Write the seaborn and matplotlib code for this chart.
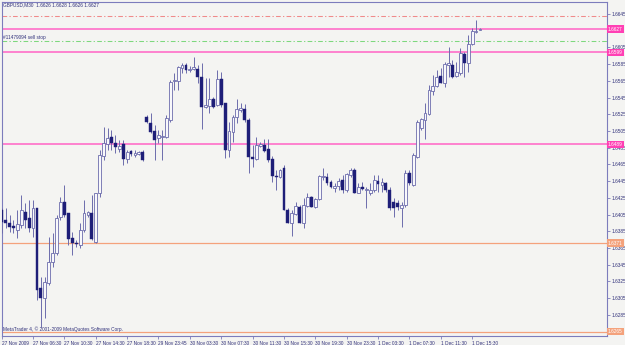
#GBPUSD M30 - grafico de velas estilo MetaTrader
import numpy as np
import pandas as pd
import seaborn as sns
import matplotlib.pyplot as plt
import matplotlib.transforms as mtransforms

#precios OHLC (123 velas de 30 minutos)
opens = [
    1.6411, 1.6398, 1.6395, 1.6391, 1.6387, 1.6393, 1.6408, 1.6401, 1.6389, 1.6413,
    1.6317, 1.6305, 1.6323, 1.6348, 1.6359, 1.6402, 1.6420, 1.6407, 1.6377, 1.6371,
    1.6369, 1.6387, 1.6404, 1.6407, 1.6372, 1.6431, 1.6475, 1.6489, 1.6498, 1.6491,
    1.6484, 1.6489, 1.6472, 1.6481, 1.6476, 1.6478, 1.6480, 1.6522, 1.6515, 1.6505,
    1.6497, 1.6498, 1.6498, 1.6518, 1.6565, 1.6565, 1.6580, 1.6584, 1.6578, 1.6579,
    1.6579, 1.6570, 1.6534, 1.6535, 1.6543, 1.6536, 1.6567, 1.6539, 1.6482, 1.6504,
    1.6522, 1.6530, 1.6531, 1.6518, 1.6474, 1.6472, 1.6487, 1.6488, 1.6484, 1.6472,
    1.6451, 1.6450, 1.6461, 1.6411, 1.6395, 1.6406, 1.6414, 1.6395, 1.6415, 1.6426,
    1.6414, 1.6424, 1.6450, 1.6450, 1.6444, 1.6437, 1.6439, 1.6446, 1.6434, 1.6452,
    1.6458, 1.6431, 1.6438, 1.6434, 1.6431, 1.6434, 1.6445, 1.6440, 1.6443, 1.6434,
    1.6420, 1.6419, 1.6413, 1.6417, 1.6455, 1.6440, 1.6474, 1.6509, 1.6518, 1.6525,
    1.6553, 1.6559, 1.6571, 1.6562, 1.6584, 1.6584, 1.6571, 1.6574, 1.6597, 1.6586,
    1.6609, 1.6623, 1.6626]
highs = [
    1.6413, 1.6413, 1.6404, 1.6398, 1.6411, 1.6428, 1.6419, 1.6422, 1.6422, 1.6413,
    1.6330, 1.6330, 1.6378, 1.6383, 1.6404, 1.6426, 1.6440, 1.6407, 1.6384, 1.6375,
    1.6395, 1.6422, 1.6409, 1.6428, 1.6431, 1.6482, 1.6510, 1.6509, 1.6506, 1.6500,
    1.6494, 1.6494, 1.6482, 1.6482, 1.6482, 1.6481, 1.6482, 1.6524, 1.6527, 1.6512,
    1.6506, 1.6506, 1.6524, 1.6566, 1.6574, 1.6583, 1.6586, 1.6586, 1.6583, 1.6594,
    1.6584, 1.6586, 1.6568, 1.6568, 1.6546, 1.6578, 1.6576, 1.6539, 1.6516, 1.6524,
    1.6543, 1.6539, 1.6537, 1.6521, 1.6488, 1.6498, 1.6492, 1.6495, 1.6495, 1.6475,
    1.6458, 1.6460, 1.6464, 1.6413, 1.6411, 1.6420, 1.6417, 1.6425, 1.6431, 1.6427,
    1.6425, 1.6452, 1.6461, 1.6455, 1.6446, 1.6443, 1.6449, 1.6452, 1.6455, 1.6461,
    1.6461, 1.6443, 1.6444, 1.6438, 1.6443, 1.6452, 1.6452, 1.6449, 1.6444, 1.6438,
    1.6425, 1.6422, 1.6420, 1.6458, 1.6458, 1.6479, 1.6518, 1.6521, 1.6539, 1.6560,
    1.6572, 1.6578, 1.6580, 1.6588, 1.6606, 1.6590, 1.6588, 1.6604, 1.6600, 1.6620,
    1.6628, 1.6638, 1.6628]
lows = [
    1.6383, 1.6389, 1.6384, 1.6383, 1.6377, 1.6389, 1.6389, 1.6384, 1.6378, 1.6303,
    1.6271, 1.6281, 1.6321, 1.6342, 1.6357, 1.6398, 1.6402, 1.6369, 1.6357, 1.6366,
    1.6365, 1.6384, 1.6402, 1.6375, 1.6371, 1.6426, 1.6470, 1.6482, 1.6482, 1.6479,
    1.6480, 1.6464, 1.6467, 1.6475, 1.6474, 1.6476, 1.6469, 1.6515, 1.6503, 1.6470,
    1.6491, 1.6470, 1.6497, 1.6516, 1.6554, 1.6554, 1.6574, 1.6574, 1.6576, 1.6578,
    1.6562, 1.6507, 1.6533, 1.6527, 1.6533, 1.6535, 1.6534, 1.6473, 1.6474, 1.6492,
    1.6515, 1.6528, 1.6516, 1.6455, 1.6462, 1.6470, 1.6486, 1.6480, 1.6468, 1.6444,
    1.6434, 1.6449, 1.6411, 1.6395, 1.6379, 1.6404, 1.6395, 1.6389, 1.6414, 1.6414,
    1.6413, 1.6422, 1.6446, 1.6440, 1.6437, 1.6432, 1.6434, 1.6431, 1.6432, 1.6450,
    1.6431, 1.6431, 1.6434, 1.6413, 1.6428, 1.6432, 1.6432, 1.6432, 1.6432, 1.6411,
    1.6402, 1.6411, 1.6390, 1.6414, 1.6440, 1.6439, 1.6473, 1.6506, 1.6495, 1.6524,
    1.6548, 1.6558, 1.6562, 1.6558, 1.6570, 1.6568, 1.6570, 1.6572, 1.6570, 1.6576,
    1.6608, 1.6622, 1.6626]
closes = [
    1.6396, 1.6395, 1.6390, 1.6389, 1.6394, 1.6411, 1.6398, 1.6389, 1.6413, 1.6315,
    1.6305, 1.6324, 1.6348, 1.6359, 1.6401, 1.6420, 1.6404, 1.6376, 1.6371, 1.6370,
    1.6387, 1.6407, 1.6408, 1.6376, 1.6431, 1.6476, 1.6491, 1.6497, 1.6491, 1.6486,
    1.6487, 1.6472, 1.6480, 1.6478, 1.6479, 1.6480, 1.6470, 1.6516, 1.6504, 1.6494,
    1.6500, 1.6499, 1.6521, 1.6564, 1.6566, 1.6582, 1.6584, 1.6578, 1.6579, 1.6582,
    1.6570, 1.6534, 1.6536, 1.6543, 1.6534, 1.6567, 1.6536, 1.6482, 1.6505, 1.6522,
    1.6531, 1.6533, 1.6518, 1.6474, 1.6472, 1.6488, 1.6489, 1.6481, 1.6470, 1.6451,
    1.6450, 1.6458, 1.6411, 1.6395, 1.6407, 1.6415, 1.6395, 1.6417, 1.6426, 1.6414,
    1.6424, 1.6451, 1.6451, 1.6443, 1.6438, 1.6439, 1.6445, 1.6434, 1.6454, 1.6458,
    1.6431, 1.6438, 1.6436, 1.6436, 1.6434, 1.6446, 1.6442, 1.6444, 1.6434, 1.6413,
    1.6413, 1.6414, 1.6417, 1.6455, 1.6443, 1.6476, 1.6516, 1.6519, 1.6527, 1.6554,
    1.6559, 1.6570, 1.6562, 1.6585, 1.6586, 1.6570, 1.6576, 1.6598, 1.6586, 1.6609,
    1.6625, 1.6625, 1.6627]

#etiquetas del eje de tiempo (cada 8 velas)
time_ticks = [0, 8, 16, 24, 32, 40, 48, 56, 64, 72, 80, 88, 96, 104, 112, 120]
time_labels = ['27 Nov 2009', '27 Nov 06:30', '27 Nov 10:30', '27 Nov 14:30',
               '27 Nov 18:30', '29 Nov 23:45', '30 Nov 03:30', '30 Nov 07:30',
               '30 Nov 11:30', '30 Nov 15:30', '30 Nov 19:30', '30 Nov 23:30',
               '1 Dec 03:30', '1 Dec 07:30', '1 Dec 11:30', '1 Dec 15:30']

#lineas horizontales (niveles) del grafico
solid_levels = [1.6627, 1.6599, 1.6489]
order_levels = [1.6371, 1.6265]
tp_level = 1.6643
stop_level = 1.6613
price_ticks = np.round(np.arange(1.6285, 1.6646, 0.002), 4)
hidden_ticks = [1.6625]  #queda tapada por la caja del precio actual

#colores
bg = '#f4f4f2'
navy = '#1e1e78'
wick = '#6c6cac'
txt = '#30307a'
pink = '#ff6ec8'
pink_box = '#ff40b4'
orange = '#f4a27c'

df = pd.DataFrame({'open': opens, 'high': highs, 'low': lows, 'close': closes})
df['bar'] = np.arange(len(df))
up = df[df.close > df.open]
down = df[df.close < df.open]
flat = df[df.close == df.open]

sns.set_theme(style='white', rc={'axes.facecolor': bg, 'figure.facecolor': bg})
plt.rcParams['font.family'] = ['Liberation Sans', 'DejaVu Sans']
fs = 3.4

fig = plt.figure(figsize=(6.25, 3.45), dpi=100)
ax = fig.add_axes([1.7 / 625, 1 - 336 / 345, 605 / 625, 334.3 / 345])

#niveles
for lv in solid_levels:
    ax.axhline(lv, color=pink, lw=1.2, zorder=2)
for lv in order_levels:
    ax.axhline(lv, color=orange, lw=0.9, zorder=2)
ax.axhline(tp_level, color='#f08a8a', lw=0.75, ls=(0, (4.5, 2.2, 1.2, 2.2)), zorder=2)
ax.axhline(stop_level, color='#7ed87e', lw=0.75, ls=(0, (4.5, 2.2, 1.2, 2.2)), zorder=2)

#velas: mechas y cuerpos
w = 0.72
ax.vlines(df.bar, df.low, df.high, color=wick, lw=0.7, zorder=3)
ax.bar(down.bar, down.open - down.close, bottom=down.close, width=w,
       color=navy, edgecolor=navy, linewidth=0.3, zorder=4)
ax.bar(up.bar, up.close - up.open, bottom=up.open, width=w,
       color='#f8f8fb', edgecolor=wick, linewidth=0.6, zorder=4)
ax.hlines(flat.close, flat.bar - w / 2, flat.bar + w / 2, color=wick, lw=0.7, zorder=4)

ax.set_xlim(0, 605 / 3.92)
ax.set_ylim(1.62598, 1.66597)

#ejes
for s in ax.spines.values():
    s.set_color('#7c7cbc')
    s.set_linewidth(0.8)
ax.yaxis.tick_right()
ax.set_yticks(price_ticks)
ax.set_yticklabels(['' if p in hidden_ticks else '%.4f' % p for p in price_ticks])
ax.set_xticks(time_ticks)
ax.set_xticklabels(time_labels)
for lbl in ax.get_xticklabels():
    lbl.set_ha('left')
ax.tick_params(axis='y', right=True, left=False, direction='out', length=2,
               width=0.6, color='#7c7cbc', pad=1.2, labelsize=fs, labelcolor=txt)
ax.tick_params(axis='x', bottom=True, direction='out', length=2.5, width=0.6,
               color='#7c7cbc', pad=0.8, labelsize=fs, labelcolor=txt)

#cajas de precio a la derecha
tr = mtransforms.blended_transform_factory(ax.transAxes, ax.transData)
for lv in solid_levels:
    ax.text(1.002, lv, '%.4f' % lv, transform=tr, ha='left', va='center',
            fontsize=fs, color='white', zorder=10, clip_on=False,
            bbox=dict(boxstyle='square,pad=0.25', fc=pink_box, ec='none'))
for lv in order_levels:
    ax.text(1.002, lv, '%.4f' % lv, transform=tr, ha='left', va='center',
            fontsize=fs, color='white', zorder=10, clip_on=False,
            bbox=dict(boxstyle='square,pad=0.25', fc=orange, ec='none'))

#textos
ax.text(0.002, 0.99, 'GBPUSD,M30  1.6626 1.6628 1.6626 1.6627', transform=ax.transAxes,
        ha='left', va='center', fontsize=fs, color=txt)
ax.text(0.002, 0.894, '#11479094 sell stop', transform=ax.transAxes,
        ha='left', va='center', fontsize=fs, color=txt)
ax.text(0.002, 0.021, 'MetaTrader 4, © 2001-2009 MetaQuotes Software Corp.',
        transform=ax.transAxes, ha='left', va='center', fontsize=fs, color=txt)

plt.savefig('out.png', dpi=100, facecolor=bg)
